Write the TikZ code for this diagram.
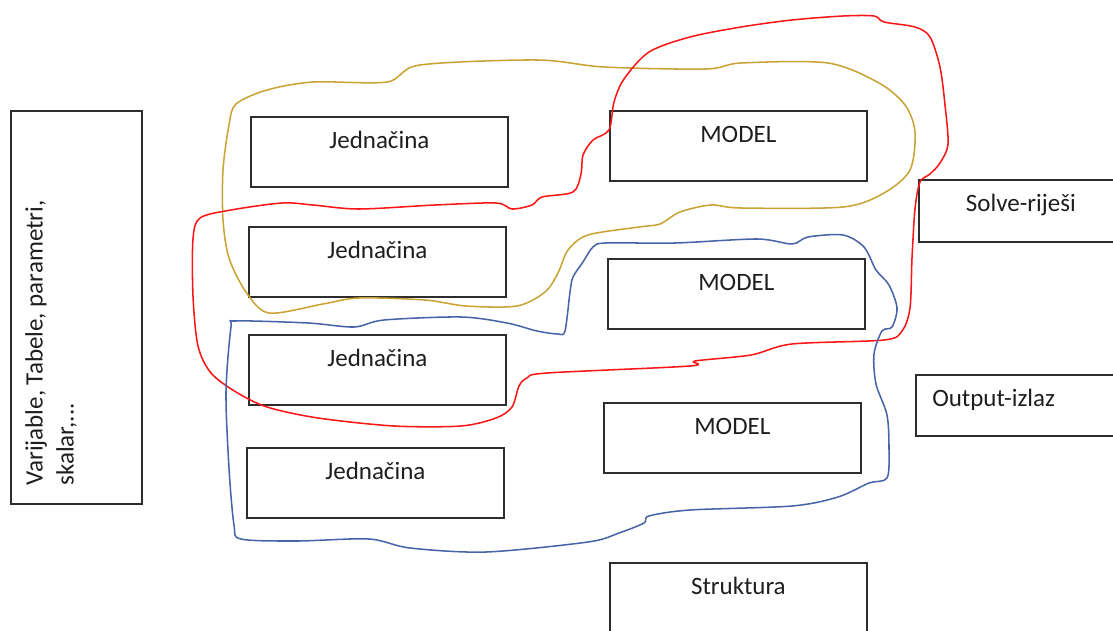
\documentclass[tikz,border=0pt]{standalone}
\usepackage{fontspec}
\setmainfont{Carlito}
\usetikzlibrary{positioning}
\definecolor{loopgold}{RGB}{201,163,52}
\definecolor{loopred}{RGB}{250,22,22}
\definecolor{loopblue}{RGB}{72,100,168}
\definecolor{boxline}{RGB}{45,45,45}
\definecolor{boxtext}{RGB}{30,30,30}

\begin{document}
\begin{tikzpicture}[x=0.75pt, y=-0.75pt,
  box/.style={draw=boxline, line width=1.3pt, inner sep=0pt, anchor=north west,
    minimum width=192.75pt, minimum height=52.5pt},
  lbl/.style={text=boxtext, font=\fontsize{18.75}{23.25}\selectfont, inner sep=0pt,
    text height=12pt, anchor=north},
  vlbl/.style={text=boxtext, font=\fontsize{18.75}{23.25}\selectfont, inner sep=0pt,
    rotate=90, anchor=north west, align=left},
  sketch/.style={line width=1.15pt, line join=round},
]
\useasboundingbox (0,0) rectangle (1113,631);

% inputs (left)
\node[box, minimum width=98.25pt, minimum height=294.75pt] (vars) at (10,110) {};
\node[vlbl] (varstxt) at ([shift={(15,-19)}]vars.south west) {Varijable, Tabele, parametri,\\skalar,...};

% equations
\node[box] (jed1) at (250,116) {};
\node[lbl, below=12pt of jed1.north] (jedtxt1) {Jednačina};
\node[box] (jed2) at (248,226) {};
\node[lbl, below=12pt of jed2.north] (jedtxt2) {Jednačina};
\node[box] (jed3) at (248,334) {};
\node[lbl, below=12pt of jed3.north] (jedtxt3) {Jednačina};
\node[box] (jed4) at (246,447) {};
\node[lbl, below=12pt of jed4.north] (jedtxt4) {Jednačina};

% models
\node[box] (mod1) at (609,110) {};
\node[lbl, below=12pt of mod1.north] (modtxt1) {MODEL};
\node[box] (mod2) at (607,258) {};
\node[lbl, below=12pt of mod2.north] (modtxt2) {MODEL};
\node[box] (mod3) at (603,402) {};
\node[lbl, below=12pt of mod3.north] (modtxt3) {MODEL};
\node[box] (struk) at (609,562) {};
\node[lbl, below=12pt of struk.north] (struktxt) {Struktura};

% right column
\node[box, minimum width=153pt, minimum height=46.5pt] (solve) at (918,179) {};
\node[lbl, below=12pt of solve.north] (solvetxt) {Solve-riješi};
\node[box, minimum width=157.5pt, minimum height=45.75pt] (output) at (915,374) {};
\node[lbl, anchor=north west, below right=12pt and 12.75pt of output.north west] (outputtxt) {Output-izlaz};

% hand drawn groups
\draw[sketch, loopgold] plot[smooth cycle, tension=0.5] coordinates {
  (236,104) (267,90) (313,82) (387,82) (420,65) (537,60) (604,67) (706,69)
  (741,63) (828,63) (879,83) (905,105) (915,132) (910,170) (884,193) (843,207)
  (741,208) (711,205) (680,212) (660,224) (639,227) (588,235) (568,250) (558,273)
  (545,292) (517,306) (466,306) (425,300) (359,298) (323,304) (269,313) (246,292)
  (229,258) (223,220) (223,170) (229,125)};
\draw[sketch, loopred] plot[smooth cycle, tension=0.5] coordinates {
  (874,16) (884,22) (915,27) (930,37) (940,67) (945,105) (948,144) (940,163)
  (930,174) (920,182) (915,209) (912,258) (910,308) (902,331) (884,340) (792,344)
  (751,355) (695,361) (690,366) (547,373) (527,378) (519,386) (512,407) (496,418)
  (461,426) (394,426) (318,418) (267,407) (236,392) (211,373) (198,346) (193,296)
  (193,239) (200,218) (231,210) (282,203) (313,205) (359,209) (435,205) (496,203)
  (512,209) (532,205) (542,197) (573,192) (581,174) (583,155) (593,140) (609,130)
  (614,102) (624,79) (649,52) (690,37) (741,27) (792,20) (843,16)};
\draw[sketch, loopblue] plot[smooth cycle, tension=0.5] coordinates {
  (606,243) (675,243) (757,239) (792,244) (808,237) (843,235) (864,247) (876,270)
  (889,285) (897,308) (892,327) (882,331) (874,354) (876,384) (887,415) (889,449)
  (887,478) (869,483) (838,497) (792,506) (690,510) (649,516) (644,523) (619,533)
  (588,542) (486,552) (410,548) (369,539) (297,541) (241,539) (234,525) (229,468)
  (226,392) (231,327) (236,321) (308,323) (354,327) (384,320) (461,317) (507,323)
  (537,331) (558,334) (565,331) (570,292) (573,277) (583,262) (593,247)};
\end{tikzpicture}
\end{document}
